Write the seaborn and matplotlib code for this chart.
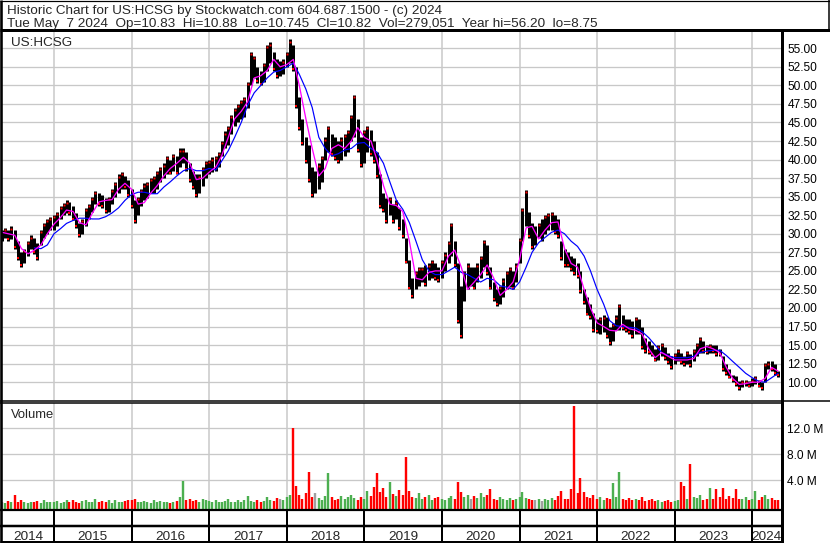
import numpy as np
import pandas as pd
import matplotlib
matplotlib.use("Agg")
import matplotlib.pyplot as plt
import seaborn as sns
from matplotlib.lines import Line2D

# ---------------- data ----------------
# semi-monthly high / low of the price bars (1st and 15th of each month), May 2014 .. May 2024
hi_2014 = [30.5, 30.8, 30.5, 31.0, 30.5, 29.0, 27.5, 28.0, 29.0, 29.8, 29.5, 28.8, 30.5, 31.5, 32.0, 32.3]
lo_2014 = [29.0, 29.5, 29.0, 29.3, 28.0, 26.5, 25.5, 26.0, 27.0, 28.0, 27.3, 26.5, 28.5, 29.5, 30.0, 30.5]
hi_2015 = [32.5, 33.0, 33.8, 34.2, 34.5, 34.3, 33.8, 32.8, 31.5, 32.0, 33.5, 34.0,
           35.0, 35.8, 35.5, 35.2, 34.8, 35.0, 36.0, 37.0, 38.0, 38.3, 37.8, 37.2]
lo_2015 = [30.5, 31.0, 32.0, 32.5, 32.8, 32.5, 31.8, 30.8, 29.6, 30.0, 31.0, 32.0,
           33.0, 34.0, 33.8, 33.5, 32.8, 33.0, 34.0, 35.0, 35.5, 36.0, 36.0, 35.0]
hi_2016 = [36.0, 34.5, 35.0, 36.0, 36.8, 37.0, 37.5, 37.8, 38.5, 39.0, 39.5, 40.5,
           40.0, 40.8, 40.5, 41.5, 41.5, 41.0, 39.5, 38.5, 38.0, 38.0, 39.0, 39.8]
lo_2016 = [33.5, 31.5, 32.5, 33.8, 34.5, 34.8, 35.5, 35.5, 36.0, 37.0, 37.5, 38.0,
           38.0, 38.5, 38.0, 39.0, 39.5, 38.5, 37.0, 36.0, 35.0, 35.5, 36.5, 37.5]
hi_2017 = [40.0, 40.3, 40.5, 41.0, 42.5, 43.8, 44.5, 46.0, 47.0, 47.5, 48.0, 48.5,
           50.5, 54.5, 54.0, 52.5, 52.0, 53.0, 55.5, 55.8, 54.5, 53.5, 53.3, 53.5]
lo_2017 = [38.0, 38.3, 38.5, 39.0, 40.5, 41.5, 42.0, 43.5, 44.5, 45.0, 45.5, 45.8,
           47.0, 50.0, 51.0, 50.3, 50.0, 50.5, 52.0, 53.0, 52.0, 51.0, 51.2, 51.5]
hi_2018 = [54.5, 56.2, 55.5, 52.5, 48.5, 45.5, 43.0, 42.0, 39.0, 38.5, 39.5, 40.5,
           43.0, 44.5, 43.5, 43.0, 42.5, 43.0, 43.5, 44.0, 46.0, 48.7, 45.5, 43.0]
lo_2018 = [52.5, 53.0, 52.0, 47.0, 44.0, 42.0, 39.5, 37.0, 35.0, 35.5, 36.0, 37.0,
           40.0, 41.0, 40.5, 40.0, 39.5, 40.0, 40.5, 41.0, 42.5, 43.0, 41.0, 39.0]
hi_2019 = [44.0, 44.5, 44.0, 42.5, 41.0, 38.0, 35.5, 34.8, 35.0, 34.0, 34.5, 33.5,
           32.0, 29.5, 26.5, 24.0, 25.0, 25.5, 25.5, 25.8, 26.0, 26.5, 26.0, 25.5]
lo_2019 = [39.5, 41.0, 40.5, 39.5, 37.5, 33.5, 33.0, 31.5, 32.5, 31.5, 32.0, 30.5,
           29.5, 26.0, 22.5, 21.3, 22.5, 23.0, 23.5, 23.0, 23.8, 24.0, 23.8, 23.5]
hi_2020 = [26.5, 27.5, 29.0, 31.5, 29.0, 26.0, 23.0, 25.0, 26.0, 25.5, 25.5, 26.0,
           27.0, 29.2, 28.5, 25.5, 23.5, 22.5, 23.0, 24.0, 25.0, 25.5, 25.0, 26.0]
lo_2020 = [24.0, 25.0, 26.0, 27.0, 25.5, 18.0, 16.0, 21.0, 22.5, 23.0, 22.5, 23.5,
           24.0, 25.5, 24.5, 22.5, 21.0, 20.3, 20.5, 21.5, 22.5, 22.8, 22.5, 23.5]
hi_2021 = [29.5, 33.5, 35.9, 33.0, 31.5, 31.0, 31.5, 32.0, 32.5, 32.8, 33.0, 32.5,
           32.0, 29.0, 28.0, 27.5, 27.0, 26.8, 26.0, 25.0, 22.5, 21.5, 20.5, 19.3]
lo_2021 = [26.0, 29.0, 31.0, 29.5, 28.0, 28.5, 29.5, 29.0, 30.0, 30.5, 30.5, 30.0,
           29.5, 26.5, 25.5, 25.5, 25.0, 24.5, 24.0, 22.0, 20.5, 19.0, 18.5, 16.8]
hi_2022 = [18.5, 18.8, 19.0, 18.8, 17.5, 18.0, 19.0, 20.6, 19.0, 18.5, 18.5, 18.3,
           18.8, 18.5, 17.5, 16.0, 15.5, 15.0, 14.5, 15.0, 15.3, 14.8, 14.0, 13.5]
lo_2022 = [16.6, 16.5, 16.8, 16.0, 15.0, 15.5, 17.0, 17.0, 17.0, 16.8, 16.5, 16.0,
           16.5, 16.5, 14.5, 14.0, 13.8, 13.5, 12.8, 13.0, 13.5, 13.0, 12.5, 11.8]
hi_2023 = [14.0, 14.5, 14.0, 13.5, 14.2, 13.8, 14.5, 15.3, 16.1, 15.5, 15.0, 15.2,
           15.0, 15.0, 14.5, 13.5, 12.5, 11.8, 11.0, 10.8, 10.2, 10.3, 10.3, 10.2]
lo_2023 = [12.5, 12.8, 12.5, 12.2, 12.5, 12.0, 12.8, 13.5, 14.0, 14.0, 13.8, 14.0,
           14.0, 13.5, 13.5, 11.5, 11.0, 10.5, 10.0, 9.5, 9.0, 9.3, 9.5, 9.3]
hi_2024 = [10.5, 10.8, 10.3, 10.0, 12.6, 12.8, 12.8, 12.5, 11.5]
lo_2024 = [9.5, 9.8, 9.3, 9.0, 10.0, 11.8, 11.5, 11.0, 10.7]

# semi-monthly volume, millions of shares
vol_2014 = [0.6, 0.5, 0.8, 0.6, 1.7, 0.7, 0.9, 0.6, 0.5, 0.7, 0.6, 0.8, 0.5, 0.9, 0.6, 0.7]
vol_2015 = [0.6, 0.8, 0.5, 0.7, 0.9, 0.6, 1.0, 0.7, 0.5, 0.8, 0.9, 0.6,
            0.7, 1.1, 0.6, 0.8, 0.7, 0.9, 0.5, 1.0, 0.7, 0.6, 0.8, 0.9]
vol_2016 = [0.9, 1.1, 0.7, 0.6, 0.8, 0.7, 0.5, 0.9, 0.6, 0.8, 0.7, 0.6,
            0.5, 0.7, 0.8, 1.5, 3.9, 0.9, 1.2, 0.8, 1.0, 0.7, 1.1, 0.9]
vol_2017 = [0.8, 0.6, 0.9, 0.7, 0.6, 0.8, 1.1, 0.7, 0.6, 0.9, 0.7, 1.0,
            1.6, 0.8, 0.7, 0.9, 0.6, 0.8, 1.4, 1.0, 0.8, 1.3, 1.1, 0.9]
vol_2018 = [1.5, 1.8, 12.0, 3.2, 1.8, 1.2, 2.1, 5.3, 1.5, 2.0, 1.3, 1.0,
            1.6, 5.1, 1.4, 0.9, 1.2, 1.6, 1.1, 1.4, 1.8, 1.3, 1.0, 1.5]
vol_2019 = [1.2, 2.4, 1.6, 3.0, 5.1, 2.2, 2.8, 1.4, 3.7, 1.9, 1.6, 2.5,
            1.8, 7.6, 2.3, 1.5, 1.3, 2.0, 1.1, 1.4, 1.7, 1.0, 1.3, 1.5]
vol_2020 = [1.2, 0.9, 1.3, 1.6, 1.1, 3.7, 2.2, 1.5, 1.8, 1.2, 1.6, 1.3,
            2.0, 1.4, 1.8, 2.7, 1.2, 1.0, 1.5, 1.1, 0.9, 1.3, 1.0, 1.2]
vol_2021 = [1.4, 2.2, 1.3, 1.1, 0.9, 1.0, 1.2, 0.8, 1.1, 0.9, 1.3, 1.0,
            1.6, 2.3, 1.2, 1.1, 2.6, 15.4, 2.0, 4.3, 2.2, 1.5, 1.3, 1.8]
vol_2022 = [1.2, 1.5, 1.0, 1.3, 1.1, 3.6, 1.4, 5.3, 1.2, 1.0, 1.3, 0.9,
            1.1, 1.0, 1.4, 0.8, 0.9, 1.1, 0.8, 0.9, 0.7, 0.8, 0.9, 0.7]
vol_2023 = [0.8, 1.0, 3.7, 3.1, 1.2, 6.5, 1.5, 1.3, 1.8, 1.0, 1.2, 2.8,
            1.1, 2.6, 1.5, 2.8, 1.2, 1.6, 1.3, 2.7, 1.2, 1.1, 1.4, 1.0]
vol_2024 = [1.2, 2.3, 1.0, 1.5, 1.8, 1.1, 1.3, 1.0, 0.9]

# monthly readings of the two moving-average lines (1st of each month, May 2014 .. May 2024)
ma_short = [30.2, 30.0, 29.8, 28.0, 27.3, 27.8, 28.5, 30.0,
            31.3, 32.2, 33.2, 33.0, 31.5, 31.2, 32.8, 34.3, 34.5, 34.6, 36.0, 36.8,
            36.0, 34.0, 34.2, 35.5, 36.5, 37.8, 38.8, 39.5, 40.3, 39.5, 37.3, 37.5,
            38.3, 39.0, 40.5, 43.0, 45.5, 46.5, 47.8, 51.0, 51.3, 52.0, 53.5, 52.5,
            52.8, 53.5, 50.0, 45.5, 41.5, 37.8, 38.8, 41.5, 42.0, 41.5, 42.5, 44.3,
            43.0, 42.5, 40.0, 36.5, 34.0, 33.8, 33.0, 29.0, 24.0, 23.8, 24.8, 25.0,
            25.0, 27.0, 27.8, 25.5, 22.5, 23.5, 24.5, 25.8, 24.0, 21.7, 22.5, 23.5,
            26.5, 30.8, 31.0, 29.3, 30.5, 31.5, 31.6, 28.0, 26.0, 25.5, 22.5, 20.0,
            18.0, 17.5, 17.0, 16.9, 17.8, 17.2, 17.0, 16.5, 14.5, 13.3, 14.0, 13.5,
            13.0, 13.0, 13.0, 13.2, 14.5, 14.8, 14.5, 14.0, 12.0, 10.5, 9.7, 9.8,
            10.0, 10.0, 10.5, 12.0, 11.5]
ma_long = [None, None, None, None, None, 28.1, 28.0, 28.5,
           30.0, 30.7, 31.4, 31.8, 32.1, 32.1, 32.0, 32.0, 32.3, 32.8, 33.5, 34.5,
           35.3, 35.6, 35.6, 35.4, 35.4, 36.3, 37.0, 37.8, 38.5, 38.8, 38.5, 38.5,
           38.8, 38.6, 39.8, 41.2, 43.0, 45.0, 47.3, 49.0, 50.0, 51.0, 51.8, 52.0,
           52.5, 53.0, 51.5, 49.5, 47.0, 43.0, 41.5, 40.5, 40.8, 41.3, 41.5, 42.2,
           42.3, 41.5, 41.0, 39.5, 37.0, 34.5, 33.3, 31.5, 29.0, 26.5, 25.0, 24.5,
           24.5, 25.0, 25.5, 24.8, 24.5, 24.0, 23.5, 24.0, 23.8, 23.0, 22.8, 22.5,
           23.5, 25.5, 27.5, 28.8, 29.5, 30.2, 30.5, 30.0, 29.0, 28.3, 27.0, 25.0,
           22.5, 20.5, 18.3, 17.6, 17.5, 17.4, 17.3, 16.8, 16.0, 15.0, 14.0, 13.6,
           13.3, 13.3, 13.3, 13.5, 14.0, 14.2, 14.3, 14.3, 13.6, 12.8, 12.0, 11.2,
           10.6, 10.1, 10.0, 10.6, 11.2]

years = list(range(2014, 2025))
price_ticks = [10.0, 12.5, 15.0, 17.5, 20.0, 22.5, 25.0, 27.5, 30.0, 32.5, 35.0,
               37.5, 40.0, 42.5, 45.0, 47.5, 50.0, 52.5, 55.0]
vol_ticks = [4.0, 8.0, 12.0]

title1 = "Historic Chart for US:HCSG by Stockwatch.com 604.687.1500 - (c) 2024"
title2 = ("Tue May  7 2024  Op=10.83  Hi=10.88  Lo=10.745  Cl=10.82  "
          "Vol=279,051  Year hi=56.20  lo=8.75")

# ---------------- assemble ----------------
hi = np.array(hi_2014 + hi_2015 + hi_2016 + hi_2017 + hi_2018 + hi_2019 + hi_2020
              + hi_2021 + hi_2022 + hi_2023 + hi_2024, dtype=float)
lo = np.array(lo_2014 + lo_2015 + lo_2016 + lo_2017 + lo_2018 + lo_2019 + lo_2020
              + lo_2021 + lo_2022 + lo_2023 + lo_2024, dtype=float)
vol = np.array(vol_2014 + vol_2015 + vol_2016 + vol_2017 + vol_2018 + vol_2019 + vol_2020
               + vol_2021 + vol_2022 + vol_2023 + vol_2024, dtype=float)

d_half = pd.date_range("2014-05-01", periods=len(hi), freq="SMS")
d_mon = pd.date_range("2014-05-01", periods=len(ma_short), freq="MS")


def dec_year(d):
    return np.asarray(d.year + (d.dayofyear - 1) / 365.25, dtype=float)


t_half = dec_year(d_half)
t_mon = dec_year(d_mon)
mid = (hi + lo) / 2
chg = np.diff(mid, prepend=mid[0])

ma_df = pd.DataFrame({"t": t_mon, "short": np.array(ma_short, dtype=float),
                      "long": np.array([np.nan if v is None else v for v in ma_long])})

# ---------------- figure ----------------
sns.set_style("white")
plt.rcParams["font.family"] = ["Liberation Sans", "DejaVu Sans"]

W, H = 830, 543
fig = plt.figure(figsize=(W / 100, H / 100), dpi=100)
PX = 72 / 100  # points per pixel

XL = (2014.33, 2024.37)
ax_left, ax_right = 2, 781


def fbox(x0, y0, x1, y1):
    return [x0 / W, 1 - y1 / H, (x1 - x0) / W, (y1 - y0) / H]


ax_p = fig.add_axes(fbox(ax_left, 31, ax_right, 400))
ax_v = fig.add_axes(fbox(ax_left, 403, ax_right, 510))
ax_s = fig.add_axes(fbox(ax_left, 510, ax_right, 542))

grid_c = "#c8c8c8"
for ax in (ax_p, ax_v, ax_s):
    ax.set_xlim(*XL)
    for s in ax.spines.values():
        s.set_visible(False)
    ax.set_xticks([])
    ax.set_facecolor("white")

# price panel
ax_p.set_ylim(7.6, 57.33)
for p in price_ticks:
    ax_p.axhline(p, color=grid_c, lw=1.3 * PX, zorder=0)
for y in years[1:]:
    ax_p.axvline(y, color=grid_c, lw=1.5 * PX, zorder=0)
ax_p.vlines(t_half, lo, hi, color="black", lw=3.0 * PX, zorder=2)
down = chg < 0
ax_p.plot(t_half[down], lo[down] + 0.25, "s", color="red", ms=1.6, mew=0, zorder=3)
up = chg > 0
ax_p.plot(t_half[up], hi[up] - 0.3, "s", color="red", ms=1.4, mew=0, zorder=3)
long_df = ma_df.dropna()
sns.lineplot(data=long_df, x="t", y="long", color="#0000ff", lw=1.2 * PX,
             ax=ax_p, estimator=None, sort=False, zorder=4)
sns.lineplot(data=ma_df, x="t", y="short", color="#ff00ff", lw=1.3 * PX,
             ax=ax_p, estimator=None, sort=False, zorder=5)
ax_p.set_xlabel("")
ax_p.set_ylabel("")
ax_p.set_xlim(*XL)
ax_p.yaxis.tick_right()
ax_p.set_yticks(price_ticks)
ax_p.set_yticklabels([f"{p:.2f}" for p in price_ticks])
ax_p.tick_params(axis="y", length=0, pad=4.5, labelsize=8.6, colors="black")
ax_p.text(9 / (ax_right - ax_left), 1 - 14.5 / 369, "US:HCSG", transform=ax_p.transAxes,
          fontsize=9.7, va="baseline", ha="left")

# volume panel
ax_v.set_ylim(-0.57, 15.9)
for v in vol_ticks:
    ax_v.axhline(v, color=grid_c, lw=1.3 * PX, zorder=0)
for y in years[1:]:
    ax_v.axvline(y, color=grid_c, lw=1.5 * PX, zorder=0)
vcol = np.where(chg < 0, "#ff0000", np.where(chg > 0, "#4caf50", "#a0a0a0"))
ax_v.vlines(t_half, -0.57, vol, colors=vcol, lw=2.4 * PX, zorder=2)
ax_v.yaxis.tick_right()
ax_v.set_yticks(vol_ticks)
ax_v.set_yticklabels([f"{v:.1f} M" for v in vol_ticks])
ax_v.tick_params(axis="y", length=0, pad=4.5, labelsize=8.6, colors="black")
ax_v.text(9 / (ax_right - ax_left), 1 - 15 / 107, "Volume", transform=ax_v.transAxes,
          fontsize=9.4, va="baseline", ha="left")

# year strip
ax_s.set_ylim(0, 1)
ax_s.set_yticks([])
bounds = [XL[0]] + years[1:] + [XL[1]]
for y in years[1:]:
    ax_s.axvline(y, color="black", lw=2 * PX)
for i, yr in enumerate(years):
    ax_s.text((bounds[i] + bounds[i + 1]) / 2, 0.06, str(yr), ha="center",
              va="baseline", fontsize=9.7)


# frame lines (figure pixels)
def hline(py, x0, x1, w):
    fig.add_artist(Line2D([x0 / W, x1 / W], [1 - py / H] * 2, color="black",
                          lw=w * PX, transform=fig.transFigure, solid_capstyle="butt"))


def vline(px, y0, y1, w):
    fig.add_artist(Line2D([px / W] * 2, [1 - y0 / H, 1 - y1 / H], color="black",
                          lw=w * PX, transform=fig.transFigure, solid_capstyle="butt"))


hline(0.5, 0, W, 1.2)
hline(30, 0, W, 3)
vline(1.2, 0, H, 2.6)
vline(828.5, 0, 30, 1.5)
vline(782.3, 30, H, 3)
hline(400.5, 0, W, 1.5)
hline(403, 0, 782, 1.5)
hline(510, 0, 782, 2.2)
hline(526, 0, 782, 2.5)
hline(541.5, 0, 782, 3)

fig.text(6.5 / W, 1 - 14 / H, title1, fontsize=9.7, va="baseline", ha="left")
fig.text(6.5 / W, 1 - 27.3 / H, title2, fontsize=9.7, va="baseline", ha="left")

fig.savefig("out.png", dpi=100, facecolor="white")
